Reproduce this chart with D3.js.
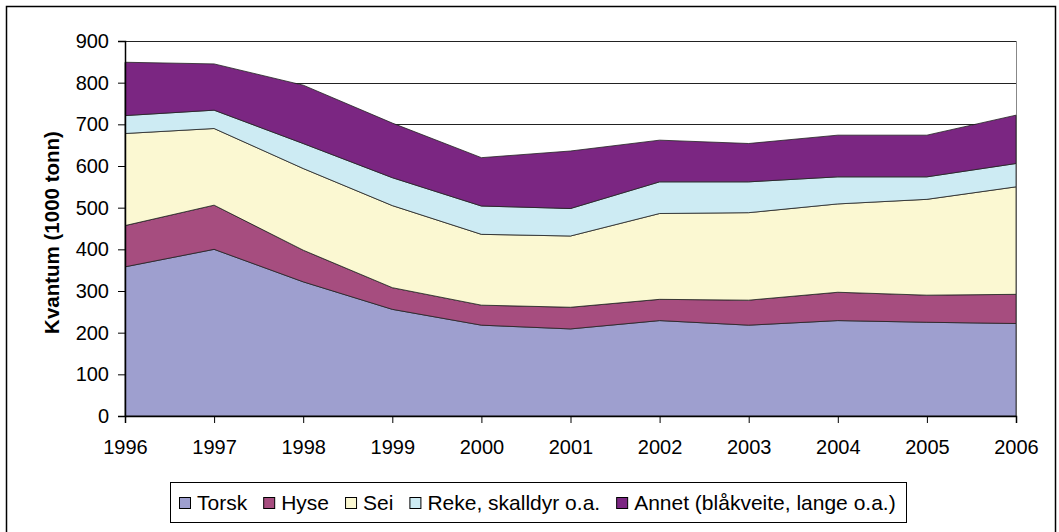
<!DOCTYPE html>
<html>
<head>
<meta charset="utf-8">
<script src="https://cdn.jsdelivr.net/npm/d3@7"></script>
<style>
  html, body { margin: 0; padding: 0; background: #fff; }
  svg { display: block; }
  text { font-family: "Liberation Sans", Arial, sans-serif; fill: #000; }
</style>
</head>
<body>
<svg id="chart" width="1059" height="532"></svg>
<script>
// ---- data ----
const years = [1996, 1997, 1998, 1999, 2000, 2001, 2002, 2003, 2004, 2005, 2006];
const torsk = [358, 400, 322, 256, 218, 209, 229, 218, 229, 225, 222];
const hyse  = [99, 106, 76, 52, 48, 52, 51, 60, 68, 65, 70];
const sei   = [221, 184, 196, 197, 170, 171, 206, 210, 212, 230, 258];
const reke  = [43, 44, 60, 67, 68, 66, 76, 74, 65, 54, 56];
const annet = [128, 111, 140, 131, 116, 138, 100, 92, 100, 100, 116];
const seriesNames = ["Torsk", "Hyse", "Sei", "Reke, skalldyr o.a.", "Annet (blåkveite, lange o.a.)"];
const yTicks = [0, 100, 200, 300, 400, 500, 600, 700, 800, 900];
const yTitle = "Kvantum (1000 tonn)";

// ---- styles ----
const colors = ["#9e9fcf", "#a64d7f", "#fbf8d2", "#cdebf3", "#7b2682"];

const svg = d3.select("#chart");
const plot = { left: 125, right: 1016, top: 41, bottom: 416 };

const x = d3.scaleLinear().domain([years[0], years[years.length - 1]]).range([plot.left, plot.right]);
const y = d3.scaleLinear().domain([0, 900]).range([plot.bottom, plot.top]);

// outer border
svg.append("rect").attr("x", 6.5).attr("y", 6.5).attr("width", 1049).attr("height", 560)
  .attr("fill", "none").attr("stroke", "#000").attr("stroke-width", 1.5);

// gridlines
svg.append("g").selectAll("line").data(yTicks.filter(d => d > 0)).join("line")
  .attr("x1", plot.left).attr("x2", plot.right)
  .attr("y1", d => Math.round(y(d)) + 0.5).attr("y2", d => Math.round(y(d)) + 0.5)
  .attr("stroke", "#222").attr("stroke-width", 1);

// plot right edge
svg.append("line").attr("x1", plot.right + 0.5).attr("x2", plot.right + 0.5)
  .attr("y1", plot.top).attr("y2", plot.bottom).attr("stroke", "#888").attr("stroke-width", 1);

// stacked data
const table = years.map((yr, i) => ({
  year: yr, s0: torsk[i], s1: hyse[i], s2: sei[i], s3: reke[i], s4: annet[i]
}));
const stack = d3.stack().keys(["s0", "s1", "s2", "s3", "s4"]);
const layers = stack(table);

const area = d3.area()
  .x(d => x(d.data.year))
  .y0(d => y(d[0]))
  .y1(d => y(d[1]));

svg.append("g").selectAll("path").data(layers).join("path")
  .attr("d", area)
  .attr("fill", (d, i) => colors[i])
  .attr("stroke", "#222")
  .attr("stroke-width", 0.8)
  .attr("stroke-linejoin", "round");

// axes
const yAxis = d3.axisLeft(y).tickValues(yTicks).tickSize(7).tickPadding(9).tickFormat(d3.format("d"));
const gy = svg.append("g").attr("transform", `translate(${plot.left},0)`).call(yAxis);
gy.select(".domain").attr("stroke", "#000").attr("stroke-width", 1.5);
gy.selectAll(".tick line").attr("stroke", "#000");
gy.selectAll("text").attr("font-size", 20).attr("font-family", "Liberation Sans, Arial, sans-serif");

const xAxis = d3.axisBottom(x).tickValues(years).tickSize(7).tickPadding(17).tickFormat(d3.format("d"));
const gx = svg.append("g").attr("transform", `translate(0,${plot.bottom})`).call(xAxis);
gx.select(".domain").attr("stroke", "#000").attr("stroke-width", 1.5);
gx.selectAll(".tick line").attr("stroke", "#000");
gx.selectAll("text").attr("font-size", 20).attr("font-family", "Liberation Sans, Arial, sans-serif");

// y title
svg.append("text")
  .attr("transform", `translate(59,${(plot.top + plot.bottom) / 2 + 4}) rotate(-90)`)
  .attr("text-anchor", "middle")
  .attr("font-size", 20.5).attr("font-weight", "bold")
  .text(yTitle);

// legend
const legend = svg.append("g");
legend.append("rect").attr("x", 170.5).attr("y", 482.5).attr("width", 736).attr("height", 40)
  .attr("fill", "#fff").attr("stroke", "#000").attr("stroke-width", 1);
let lx = 179;
seriesNames.forEach((name, i) => {
  legend.append("rect").attr("x", lx + 0.5).attr("y", 497.5).attr("width", 11).attr("height", 11)
    .attr("fill", colors[i]).attr("stroke", "#000").attr("stroke-width", 1);
  const t = legend.append("text").attr("x", lx + 18).attr("y", 510)
    .attr("font-size", 21).text(name);
  const w = t.node().getComputedTextLength();
  lx = lx + 18 + w + 16;
});
</script>
</body>
</html>
